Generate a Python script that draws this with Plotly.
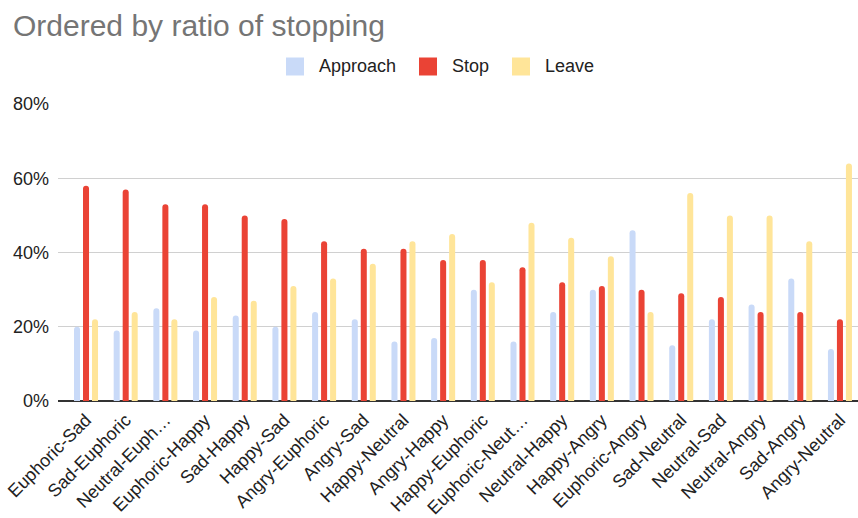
import plotly.graph_objects as go

# Pairings, ordered by share of "Stop" responses
categories = [
    "Euphoric-Sad", "Sad-Euphoric", "Neutral-Euph…", "Euphoric-Happy", "Sad-Happy",
    "Happy-Sad", "Angry-Euphoric", "Angry-Sad", "Happy-Neutral", "Angry-Happy",
    "Happy-Euphoric", "Euphoric-Neut…", "Neutral-Happy", "Happy-Angry", "Euphoric-Angry",
    "Sad-Neutral", "Neutral-Sad", "Neutral-Angry", "Sad-Angry", "Angry-Neutral",
]
approach = [0.20, 0.19, 0.25, 0.19, 0.23, 0.20, 0.24, 0.22, 0.16, 0.17,
            0.30, 0.16, 0.24, 0.30, 0.46, 0.15, 0.22, 0.26, 0.33, 0.14]
stop = [0.58, 0.57, 0.53, 0.53, 0.50, 0.49, 0.43, 0.41, 0.41, 0.38,
        0.38, 0.36, 0.32, 0.31, 0.30, 0.29, 0.28, 0.24, 0.24, 0.22]
leave = [0.22, 0.24, 0.22, 0.28, 0.27, 0.31, 0.33, 0.37, 0.43, 0.45,
         0.32, 0.48, 0.44, 0.39, 0.24, 0.56, 0.50, 0.50, 0.43, 0.64]

series = [("Approach", approach, "#c9daf8"),
          ("Stop", stop, "#ea4335"),
          ("Leave", leave, "#ffe599")]

W, H = 858, 518
L, R, T, B = 58, 0, 104, 117
FONT = "Liberation Sans, Arial, Helvetica, sans-serif"

fig = go.Figure()
for name, vals, color in series:
    fig.add_trace(go.Bar(
        x=categories, y=vals, name=name,
        marker=dict(color=color, cornerradius=3, line=dict(width=0)),
        showlegend=False,
    ))


def px_x(px):
    return (px - L) / (W - L - R)


def px_y(py):
    return (H - B - py) / (H - T - B)


# Legend drawn as square swatches with labels
shapes, annotations = [], []
legend_items = [("Approach", "#c9daf8", 286), ("Stop", "#ea4335", 419), ("Leave", "#ffe599", 512)]
for name, color, sx in legend_items:
    shapes.append(dict(type="rect", xref="paper", yref="paper",
                       x0=px_x(sx), x1=px_x(sx + 18), y0=px_y(75.5), y1=px_y(57.5),
                       fillcolor=color, line=dict(width=0)))
    annotations.append(dict(text=name, xref="paper", yref="paper",
                            x=px_x(sx + 31), y=px_y(66.5), xanchor="left", yanchor="middle",
                            showarrow=False, font=dict(family=FONT, size=18, color="#222222")))

fig.update_layout(
    width=W, height=H,
    margin=dict(l=L, r=R, t=T, b=B, pad=0),
    paper_bgcolor="white", plot_bgcolor="white",
    barmode="group", bargap=0.32, bargroupgap=0.33,
    title=dict(text="Ordered by ratio of stopping", xref="container", yref="container",
               x=13 / W, xanchor="left", y=1 - 25 / H, yanchor="middle",
               font=dict(family=FONT, size=30, color="#757575")),
    font=dict(family=FONT, size=18, color="#222222"),
    shapes=shapes, annotations=annotations,
    xaxis=dict(range=[-0.706, 19.455], tickangle=-45, showgrid=False, showline=False,
               ticks="", ticklabelstandoff=4, tickfont=dict(size=18, color="#222222")),
    yaxis=dict(range=[0, 0.8], tickvals=[0, 0.2, 0.4, 0.6, 0.8], tickformat=".0%",
               showgrid=True, gridcolor="#d0d0d0", gridwidth=1,
               zeroline=True, zerolinecolor="#333333", zerolinewidth=1.5,
               showline=False, ticks="", ticklabelstandoff=8,
               tickfont=dict(size=18, color="#222222")),
)

fig.write_html("out.html")
